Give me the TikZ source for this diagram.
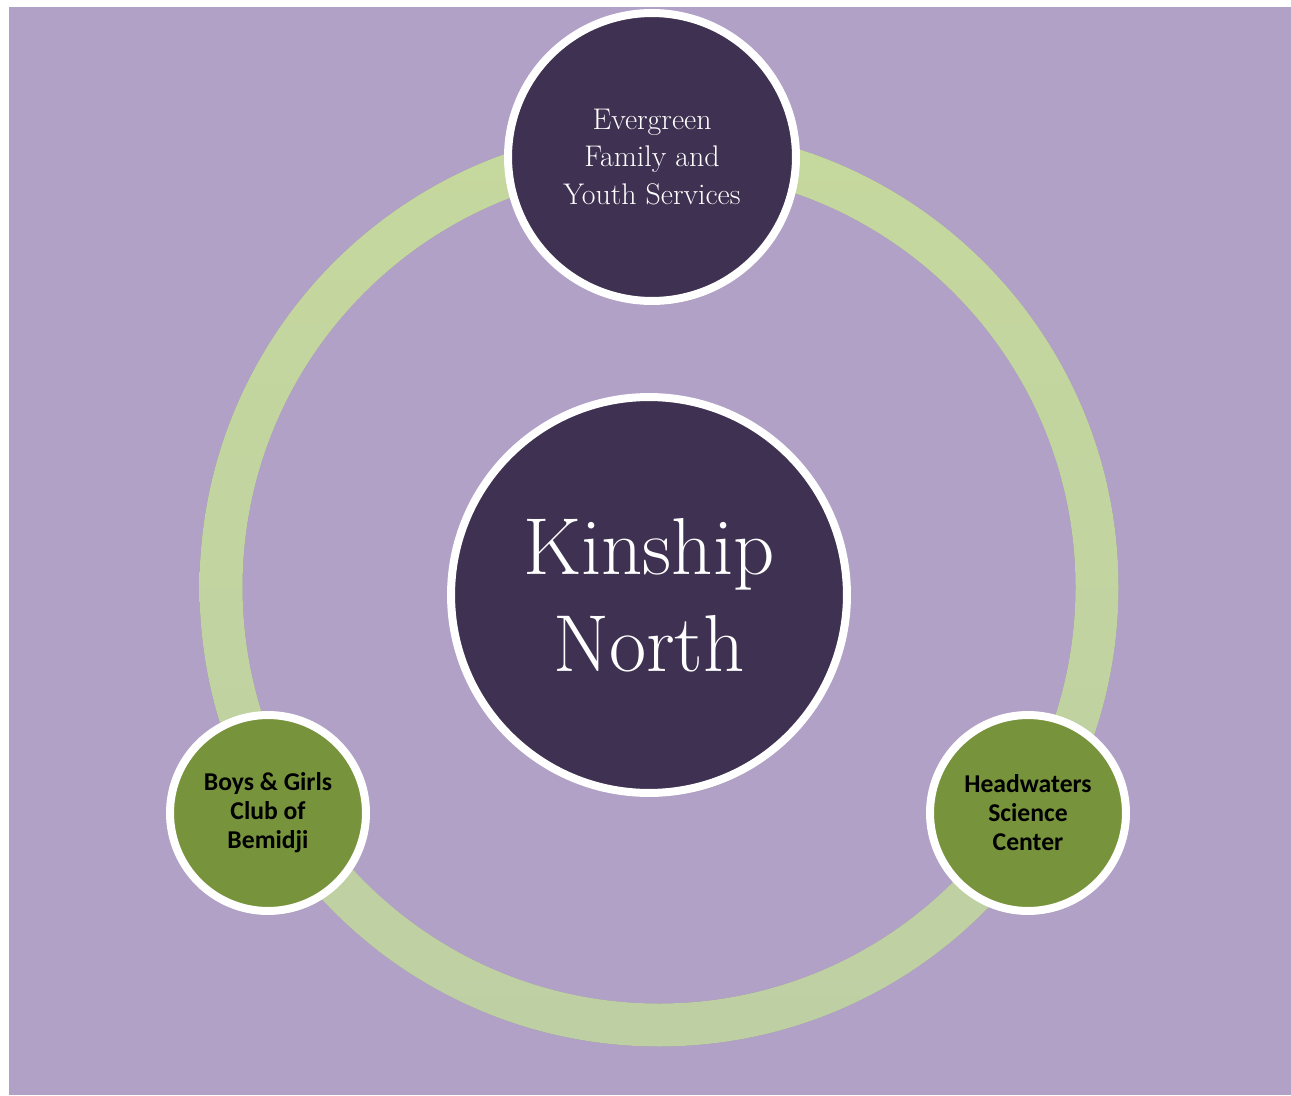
\documentclass[tikz,border=0pt]{standalone}
\usepackage{fontspec}
\newfontfamily\calfont{Carlito}
\usetikzlibrary{shadows}
\definecolor{bgpurple}{HTML}{B1A1C7}
\definecolor{darkpurple}{HTML}{3F3151}
\definecolor{olive}{HTML}{77933C}
\definecolor{ringtop}{HTML}{C5D89D}
\definecolor{ringbot}{HTML}{BECFA4}
\begin{document}
\begin{tikzpicture}[x=0.02cm, y=-0.02cm]
                \tikzset{bubble/.style={draw=white, shape=circle, line width=0.16cm, align=center,
                        drop shadow={opacity=0.25, shadow xshift=0.6pt, shadow yshift=-2.4pt}},
                    hub/.style={bubble, fill=darkpurple, text=white, minimum size=7.92cm,
                        font=\fontsize{46}{55}\selectfont},
                    partner/.style={bubble, fill=darkpurple, text=white, minimum size=5.76cm,
                        font=\fontsize{17}{21.3}\selectfont},
                    school/.style={bubble, fill=olive, text=black, minimum size=3.92cm,
                        font=\calfont\bfseries\fontsize{14.6}{16.5}\selectfont}}
                \useasboundingbox (0,0) rectangle (1291,1095);
                \fill[bgpurple] (9,7) rectangle (1291,1095);
                \coordinate (ring) at (659,587);
                % soft shadow under the ring, then the ring itself
                \fill[black, opacity=0.16, even odd rule, yshift=-2.2pt]
                    (ring) circle (459.5) (ring) circle (416.5);
                \shade[even odd rule, top color=ringtop, bottom color=ringbot]
                    (ring) circle (459.5) (ring) circle (416.5);
                \node[hub] (kinship) at (649,595) {Kinship\\North};
                \node[partner] (evergreen) at (652,157) {Evergreen\\Family and\\Youth Services};
                \node[school] (boys) at (268,813) {Boys \& Girls\\Club of\\Bemidji};
                \node[school] (headwaters) at (1028,813) {Headwaters\\Science\\Center};
            \end{tikzpicture}
\end{document}
